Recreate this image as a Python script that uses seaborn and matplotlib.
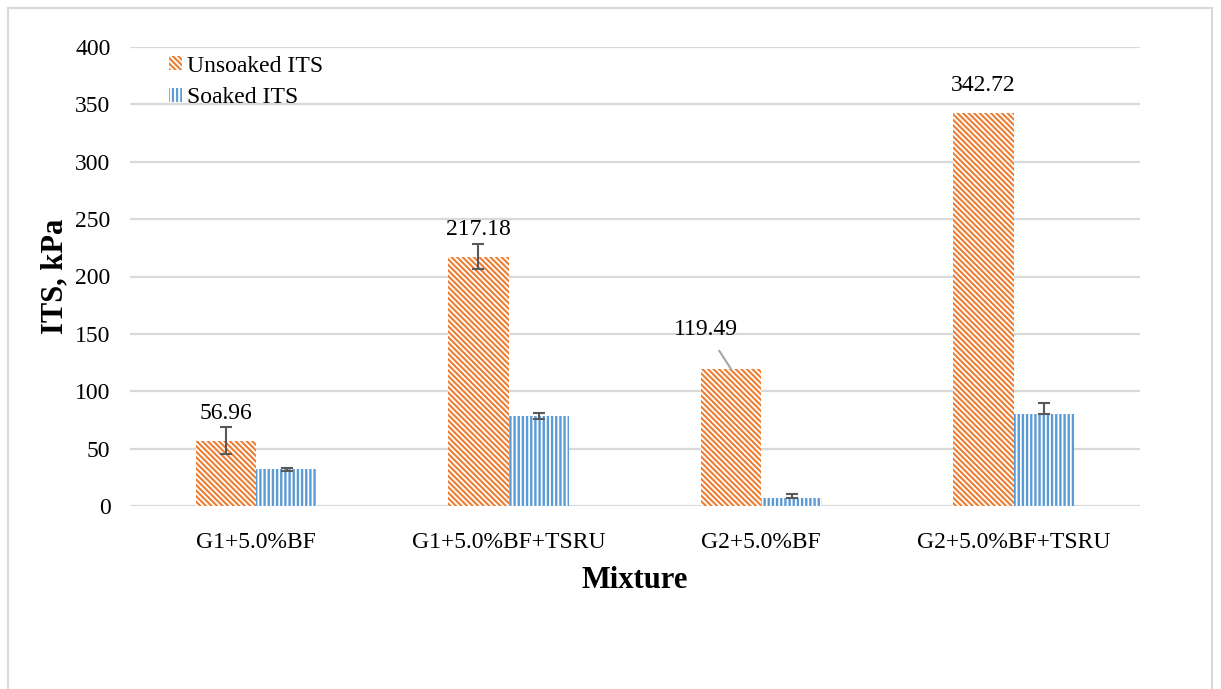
import matplotlib
import matplotlib.pyplot as plt
import pandas as pd
import seaborn as sns
from matplotlib.patches import Patch, Rectangle

matplotlib.use('Agg')

mixtures = ['G1+5.0%BF', 'G1+5.0%BF+TSRU', 'G2+5.0%BF', 'G2+5.0%BF+TSRU']
series = ['Unsoaked ITS', 'Soaked ITS']
unsoaked = [56.96, 217.18, 119.49, 342.72]
soaked = [32.0, 78.5, 6.7, 80.0]
unsoaked_err_low = [12.0, 11.0, 0.0, 0.0]
unsoaked_err_high = [12.0, 11.0, 0.0, 0.0]
soaked_err_low = [1.5, 2.7, 0.0, 0.0]
soaked_err_high = [1.5, 2.7, 4.0, 10.0]

ORANGE = '#ED7D31'
BLUE = '#5B9BD5'
GRID = '#D9D9D9'
HATCH_U = '\\' * 6
HATCH_S = '|' * 4

df = pd.DataFrame({
    'Mixture': mixtures * 2,
    'Series': [series[0]] * 4 + [series[1]] * 4,
    'ITS': unsoaked + soaked,
})

sns.set_style('white')
plt.rcParams['font.family'] = ['Liberation Serif', 'DejaVu Serif']
plt.rcParams['hatch.linewidth'] = 1.5
plt.rcParams['text.color'] = 'black'
plt.rcParams['axes.labelcolor'] = 'black'
plt.rcParams['xtick.color'] = 'black'
plt.rcParams['ytick.color'] = 'black'

fig = plt.figure(figsize=(12.21, 6.89), dpi=100)
ax = fig.add_axes([130 / 1221, 1 - 506 / 689, 1010 / 1221, 459 / 689])

sns.barplot(data=df, x='Mixture', y='ITS', hue='Series', order=mixtures,
            hue_order=series, width=0.48, errorbar=None, legend=False, ax=ax,
            palette=[ORANGE, BLUE])


def pattern(p, color, hatch, lw):
    p.set_facecolor('white')
    p.set_edgecolor(color)
    p.set_hatch(hatch)
    p.set_linewidth(0)
    if hasattr(p, 'set_hatch_linewidth'):
        p.set_hatch_linewidth(lw)


# excel-like pattern fills
bars_u = ax.containers[0]
bars_s = ax.containers[1]
for p in bars_u:
    pattern(p, ORANGE, HATCH_U, 1.5)
for p in bars_s:
    pattern(p, BLUE, HATCH_S, 1.7)

# error bars
for bars, vals, lo, hi in [(bars_u, unsoaked, unsoaked_err_low, unsoaked_err_high),
                           (bars_s, soaked, soaked_err_low, soaked_err_high)]:
    for p, v, l, h in zip(bars, vals, lo, hi):
        if l == 0 and h == 0:
            continue
        xc = p.get_x() + p.get_width() / 2
        ax.errorbar(xc, v, yerr=[[l], [h]], fmt='none', ecolor='#595959',
                    elinewidth=1.5, capsize=4, capthick=1.5, zorder=5)

# value labels on unsoaked bars
for i, (p, v) in enumerate(zip(bars_u, unsoaked)):
    xc = p.get_x() + p.get_width() / 2
    if i == 2:
        ax.annotate(f'{v:.2f}', xy=(xc, v), xytext=(xc - 0.1, v + 34),
                    ha='center', va='center', fontsize=17,
                    arrowprops=dict(arrowstyle='-', color='#A6A6A6', lw=1.5,
                                    shrinkA=6, shrinkB=0))
    else:
        ax.text(xc, v + 24, f'{v:.2f}', ha='center', va='center', fontsize=17)

ax.set_ylim(0, 400)
ax.set_yticks(range(0, 401, 50))
ax.set_xlim(-0.5, 3.5)
ax.grid(axis='y', color=GRID, linewidth=1.6)
ax.set_axisbelow(True)
sns.despine(ax=ax, left=True, bottom=True, top=True, right=True)
ax.tick_params(axis='both', length=0, labelsize=17, pad=14)
ax.tick_params(axis='x', pad=19)

ax.set_xlabel('Mixture', fontsize=22, fontweight='bold', labelpad=9)
ax.set_ylabel('ITS, kPa', fontsize=22, fontweight='bold', labelpad=4)

handles = [Patch(facecolor='white', edgecolor=ORANGE, hatch=HATCH_U, linewidth=0),
           Patch(facecolor='white', edgecolor=BLUE, hatch=HATCH_S, linewidth=0)]
ax.legend(handles, series, loc='upper left', bbox_to_anchor=(0.025, 1.012),
          frameon=False, fontsize=17, handlelength=0.55, handleheight=0.55,
          handletextpad=0.2, labelspacing=0.45, borderaxespad=0.2)

# chart border
fig.patches.append(Rectangle((8 / 1221, -0.1), 1204 / 1221, 1 - 8 / 689 + 0.1,
                             transform=fig.transFigure, fill=False,
                             edgecolor=GRID, linewidth=1.5))

fig.savefig('out.png', dpi=100)
